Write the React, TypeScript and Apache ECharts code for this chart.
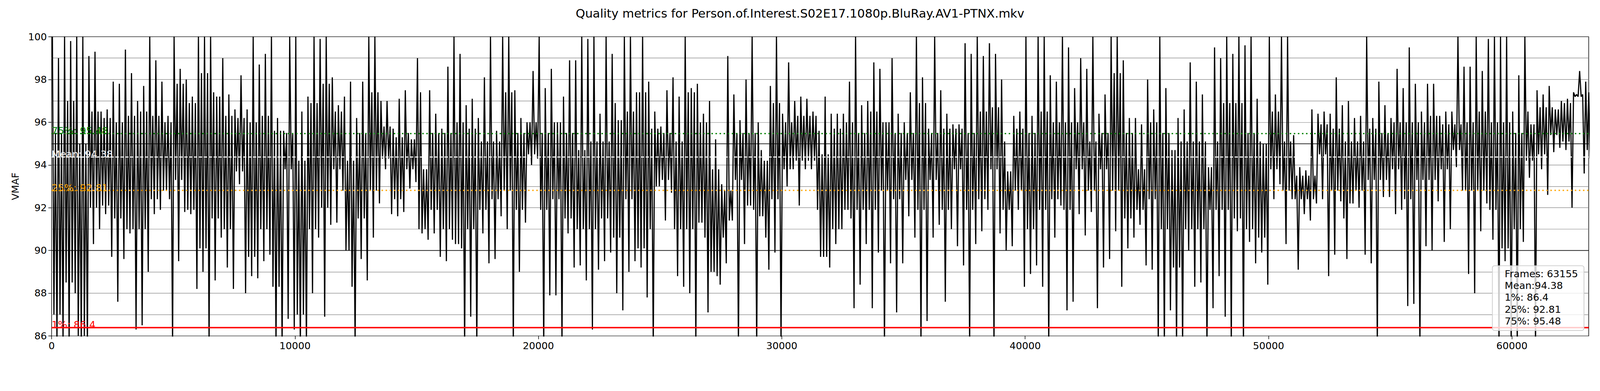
import React, { useEffect, useRef, useState } from "react";
import * as echarts from "echarts";

const FONT = '"DejaVu Sans", "Liberation Sans", sans-serif';
const PAGE_W = 4400;
const PAGE_H = 1000;
const TITLE = "Quality metrics for Person.of.Interest.S02E17.1080p.BluRay.AV1-PTNX.mkv";
const Y_NAME = "VMAF";
const FRAMES = 63155;
const MEAN = 94.38;
const P1 = 86.4;
const P25 = 92.81;
const P75 = 95.48;
const Y_MIN = 86;
const Y_MAX = 100;
const Y_LABEL_STEP = 2;
const Y_GRID_STEP = 1;
const Y_MAJOR_LINES = [90, 95];
const X_STEP = 10000;
const BUCKET = 250; // frames per read-off bucket for the extremes
const BODY_BUCKET = 500; // frames per read-off bucket for the dense band

// max value seen in each 250-frame bucket
const bucketHigh = [
  100, 99, 100, 99.8, 100, 100, 99.1, 99.3, 96.5, 96.6, 97.9, 97.8, 99.4, 98.3, 97, 97.7,
  100, 98.9, 97.9, 96.3, 100, 98.5, 98, 97.2, 100, 100, 100, 97.2, 99, 97.3, 96.6, 98.2,
  96.6, 100, 98.7, 99.2, 100, 96.2, 95.6, 100, 100, 96.5, 97.2, 100, 99.9, 100, 98.1, 96.8,
  97.2, 97.9, 96.2, 97.9, 100, 100, 97, 97, 95.7, 97.1, 97.5, 95.2, 99, 93.8, 97.5, 96.4,
  95.7, 98.6, 100, 99.2, 96.8, 97.1, 96.2, 98.1, 100, 95.6, 100, 100, 97.5, 96.2, 96, 98.4,
  100, 97.6, 98.5, 96, 97.2, 98.9, 98.9, 100, 99.9, 100, 96.4, 100, 99.2, 96.1, 100, 100,
  97.4, 100, 97.9, 96.5, 95.8, 97.5, 98.1, 97.2, 100, 97.6, 97.8, 96.4, 97, 95.2, 93.1, 99.1,
  97.3, 96.1, 98, 100, 96, 94.2, 97.7, 100, 96.4, 98.8, 97, 97.2, 97.1, 96.5, 95.6, 97.2,
  96.4, 96.4, 96.4, 97.9, 100, 96.8, 97, 98.8, 98.5, 96, 99, 96.4, 96, 97.4, 100, 98.1,
  95.7, 100, 97.5, 96.4, 95.9, 95.9, 99.7, 99.2, 100, 99.1, 99.7, 99.2, 98, 93.7, 96.3, 96.5,
  100, 96.3, 100, 100, 98.2, 97.9, 100, 99.5, 97.6, 99, 98.5, 100, 96.4, 97.3, 100, 100,
  98.9, 96.2, 96.2, 95.9, 98, 96.6, 100, 97.6, 94.7, 96.2, 96.6, 98.8, 97.9, 97.3, 93.9, 99.5,
  99, 100, 99.2, 100, 99.6, 100, 97.1, 95, 100, 97.3, 100, 100, 95.4, 93.9, 93.75, 96.6,
  96.4, 96.5, 96.4, 98.1, 96.8, 97, 96.2, 96.3, 100, 96.2, 97.9, 96.8, 96.2, 98.5, 97.6, 99.5,
  97.8, 96.5, 97.8, 97.8, 96.3, 96.5, 96.5, 100, 98.6, 98.6, 100, 98.4, 99.9, 100, 100, 100,
  96.5, 98.2, 100, 95.9, 97.5, 97.3, 97.7, 96.6, 97, 97.1, 97.4, 98.4, 97.9,
];

// min value seen in each 250-frame bucket (85.5 = runs off the bottom of the axis)
const bucketLow = [
  85.5, 85.5, 85.5, 88, 85.5, 85.5, 90.3, 91, 91.7, 89.7, 87.6, 89.6, 90.8, 86.3, 86.5, 89,
  91.7, 91.9, 92.8, 85.5, 89.5, 91.8, 91.7, 88.2, 89, 85.5, 88.6, 90.6, 89.2, 88.2, 93.1, 88,
  88.8, 88.7, 89.5, 89.8, 85.5, 85.5, 86.8, 86.3, 85.5, 85.5, 88, 90.6, 86.9, 91.2, 91.3, 92.8,
  90, 85.5, 89.6, 88.6, 90.6, 92.2, 93.8, 91.7, 91.6, 91.8, 92.9, 93.2, 90.8, 90.5, 90.8, 89.7,
  89.5, 90.5, 90.3, 85.5, 86.9, 85.5, 90.8, 89.4, 89.6, 91.6, 91, 85.5, 89, 91.3, 94, 94.3,
  85.5, 87.9, 87.9, 85.5, 90.8, 89.2, 89.3, 88.6, 86.3, 89.1, 89.5, 89.9, 88, 87.2, 89, 89.5,
  89.2, 87.8, 85.5, 93, 91.4, 92.7, 88.8, 88.3, 88, 85.5, 91.3, 87.1, 89, 88.4, 89.4, 91.4,
  85.5, 90.3, 92.1, 85.5, 91.6, 89.1, 89.9, 85.5, 93, 93.8, 92.1, 93.8, 93.8, 91.9, 89.7, 89.2,
  90.3, 91, 91.9, 87.3, 88.4, 90.3, 87.3, 89.9, 85.5, 89.4, 87.1, 89.4, 91.6, 90.6, 85.5, 86.7,
  90.6, 91.2, 87.6, 91, 90.2, 89.3, 85.5, 90.3, 90.9, 91.9, 85.5, 90.8, 90, 90.2, 91.9, 88.3,
  88.9, 89.3, 88.3, 85.5, 90.6, 92.1, 87.2, 87.6, 91.7, 90.7, 91.8, 87.3, 89.2, 89.6, 90.9, 88.3,
  90.1, 90.6, 91.2, 89.3, 89.1, 85.5, 85.5, 87.2, 85.5, 85.5, 90, 88.3, 88.5, 85.5, 87.3, 88.8,
  86.9, 85.5, 90.9, 85.5, 90.4, 89.4, 89.9, 88.4, 92.4, 93.1, 90.3, 92.4, 89.1, 91.7, 91.4, 92.2,
  92.4, 88.8, 89.8, 92.3, 89.6, 92.2, 92, 89.8, 89.4, 85.5, 92.5, 92.5, 91.7, 91.9, 87.4, 87.5,
  85.5, 90.2, 90, 92.3, 90.4, 91, 93.9, 92.8, 88.9, 88, 90.9, 92.2, 90.5, 85.5, 89.5, 85.5,
  85.5, 90.4, 93.4, 85.5, 93.8, 92.6, 94.6, 94.8, 94.7, 92, 97.2, 93.6, 94.3,
];

// top of the dense black band in each 500-frame bucket
const bodyHigh = [
  95.5, 97, 95, 96.5, 96.2, 96, 96.3, 96.5, 96.3, 96, 97.8, 96.9, 98.3, 97.4, 96.3, 96.2,
  96, 96.3, 95.6, 95.5, 94.2, 96.9, 97.8, 96.5, 94.2, 95.5, 97.4, 95.8, 95.3, 95.5, 97.4, 95.5,
  95.5, 96, 95.7, 95.1, 95.1, 97.4, 95.5, 96, 95.5, 96, 95.5, 94.7, 95.1, 95.1, 96.9, 96.5,
  97.4, 95.7, 95.5, 95.1, 97.4, 96, 93.8, 92.8, 95.5, 95.5, 94.7, 96.9, 96, 96.3, 96.3, 94.5,
  95.7, 96, 95.5, 96.5, 96, 95.5, 95.5, 96.9, 95.5, 95.7, 95.7, 95.5, 96.5, 96.7, 95.1, 95.7,
  95.5, 96.5, 96, 96, 96, 95.1, 95.5, 98.3, 95.5, 93.8, 96, 95.5, 95.1, 95.1, 95.1, 95.1,
  96.9, 96.9, 95.5, 95.1, 96.5, 95.1, 93.5, 93.5, 95.9, 95.7, 95.1, 95.1, 95.7, 95.5, 96, 96,
  96, 96.3, 95.9, 95.9, 96, 96.5, 96, 96, 95.5, 96.5, 96.7, 96.7, 96.9, 97.3, 97.4,
];

// bottom of the dense black band in each 500-frame bucket
const bodyLow = [
  87, 88.5, 86, 92, 92.1, 91.5, 91, 91, 92.4, 92.4, 93.3, 91.9, 90.1, 91.5, 91, 93.7,
  89.7, 91, 88.3, 93.8, 87, 91, 92, 93.8, 88.3, 91.5, 92.8, 94.3, 92.4, 93.8, 91, 91.9,
  91, 90.1, 91, 91.9, 92.4, 92.8, 91.9, 94.5, 91.9, 92.4, 91.5, 91, 91, 91.5, 90.6, 92.4,
  90.1, 91, 93.3, 91, 91, 90.6, 88.8, 90.6, 93.3, 91.9, 90.6, 92.4, 93.8, 94.2, 94.2, 89.7,
  91, 91.5, 91.9, 91.9, 92.8, 92.4, 93.3, 91.9, 93.3, 91.9, 93.8, 91.9, 92.4, 93.8, 91.9, 92.8,
  91, 91.9, 92.4, 91.9, 93.8, 92.8, 93.8, 92.8, 91.5, 91.9, 92.4, 91, 89.2, 91, 91, 91.9,
  91.9, 91.5, 91, 90.6, 93.8, 92.8, 92.4, 92.4, 94.5, 92.8, 91.5, 92.8, 93.3, 93.3, 93.8, 92.4,
  93.3, 93.3, 93.8, 94.7, 92.8, 92.8, 91.9, 90.1, 91, 94.2, 94.5, 95.4, 95.1, 97.2, 94.7,
];

const refLines = [
  { value: P75, label: `75%: ${P75}`, color: "#008000", width: 3.6, type: [4, 7.2] },
  { value: MEAN, label: `Mean: ${MEAN}`, color: "#ffffff", width: 3, type: [9, 4.5] },
  { value: P25, label: `25%: ${P25}`, color: "#ffa500", width: 3.6, type: [4, 7.2] },
  { value: P1, label: `1%: ${P1}`, color: "#ff0000", width: 4, type: "solid" },
];

const legendLines = [
  `Frames: ${FRAMES}`,
  `Mean:${MEAN}`,
  `1%: ${P1}`,
  `25%: ${P25}`,
  `75%: ${P75}`,
];

export default function App() {
  const ref = useRef<HTMLDivElement>(null);
  const [scale] = useState(() => {
    if (typeof window === "undefined") return 1;
    const w = document.documentElement.clientWidth || window.innerWidth || PAGE_W;
    return w / PAGE_W;
  });

  useEffect(() => {
    document.body.style.margin = "0";
    document.body.style.overflow = "hidden";
    const el = ref.current;
    if (!el) return;
    const chart = echarts.init(el, null, { renderer: "svg", width: PAGE_W, height: PAGE_H });

    const points: number[][] = [];
    bucketHigh.forEach((h, i) => {
      const lo = bucketLow[i];
      const b = Math.floor((i * BUCKET) / BODY_BUCKET);
      const bh = Math.min(bodyHigh[b], h);
      const bl = Math.max(bodyLow[b], lo);
      const x = i * BUCKET;
      points.push([x + BUCKET * 0.125, h]);
      points.push([x + BUCKET * 0.375, bl]);
      points.push([x + BUCKET * 0.625, bh]);
      points.push([x + BUCKET * 0.875, lo]);
    });

    const markData: any[] = [
      ...Y_MAJOR_LINES.map((v) => ({
        yAxis: v,
        lineStyle: { color: "#000000", width: 1.5, type: "solid" },
      })),
      ...refLines.map((r) => ({
        yAxis: r.value,
        lineStyle: { color: r.color, width: r.width, type: r.type, cap: "butt" },
      })),
    ];

    const option: any = {
      animation: false,
      backgroundColor: "#ffffff",
      textStyle: { fontFamily: FONT },
      title: {
        text: TITLE,
        left: "center",
        top: 15,
        textStyle: { fontSize: 33, fontWeight: "normal", color: "#000", fontFamily: FONT },
      },
      grid: {
        left: 142,
        top: 101,
        width: 4227,
        height: 822,
        show: true,
        borderColor: "#000",
        borderWidth: 1.6,
        backgroundColor: "transparent",
      },
      xAxis: {
        type: "value",
        min: 0,
        max: FRAMES,
        interval: X_STEP,
        axisLine: { show: false },
        axisTick: { show: true, length: 9, lineStyle: { color: "#000", width: 1.6 } },
        axisLabel: {
          fontSize: 27,
          color: "#000",
          margin: 14,
          fontFamily: FONT,
          showMaxLabel: false,
          formatter: (v: number) => String(v),
        },
        splitLine: { show: false },
      },
      yAxis: [
        {
          type: "value",
          min: Y_MIN,
          max: Y_MAX,
          interval: Y_LABEL_STEP,
          name: Y_NAME,
          nameLocation: "middle",
          nameGap: 86,
          nameTextStyle: { fontSize: 27, color: "#000", fontFamily: FONT },
          axisLine: { show: false },
          axisTick: { show: true, length: 9, lineStyle: { color: "#000", width: 1.6 } },
          axisLabel: { fontSize: 27, color: "#000", margin: 13, fontFamily: FONT, formatter: (v: number) => String(v) },
          splitLine: { show: false },
        },
        {
          type: "value",
          min: Y_MIN,
          max: Y_MAX,
          interval: Y_GRID_STEP,
          position: "left",
          axisLine: { show: false },
          axisTick: { show: false },
          axisLabel: { show: false },
          splitLine: { show: true, lineStyle: { color: "#808080", width: 1.3 } },
        },
      ],
      series: [
        {
          type: "line",
          data: points,
          yAxisIndex: 0,
          showSymbol: false,
          symbol: "none",
          silent: true,
          clip: true,
          lineStyle: { color: "#000000", width: 3.2 },
          z: 3,
          markLine: {
            silent: true,
            symbol: ["none", "none"],
            label: { show: false },
            data: markData,
            z: 4,
          },
        },
      ],
    };

    chart.setOption(option);

    const x0 = chart.convertToPixel({ xAxisIndex: 0 }, 0) as number;
    const xEnd = chart.convertToPixel({ xAxisIndex: 0 }, FRAMES) as number;
    const yBottom = chart.convertToPixel({ yAxisIndex: 0 }, Y_MIN) as number;

    const boxW = 252;
    const boxH = 178;
    const boxX = xEnd - 13 - boxW;
    const boxY = yBottom - 15 - boxH;

    const graphics: any[] = refLines.map((r) => ({
      type: "text",
      z: 50,
      silent: true,
      x: x0,
      y: (chart.convertToPixel({ yAxisIndex: 0 }, r.value) as number) + 6,
      style: {
        text: r.label,
        fill: r.color,
        font: `27px ${FONT}`,
        align: "left",
        verticalAlign: "bottom",
      },
    }));

    graphics.push({
      type: "rect",
      z: 60,
      silent: true,
      shape: { x: boxX, y: boxY, width: boxW, height: boxH, r: 6 },
      style: { fill: "rgba(255,255,255,0.8)", stroke: "#cccccc", lineWidth: 2 },
    });
    graphics.push({
      type: "text",
      z: 61,
      silent: true,
      x: boxX + 34,
      y: boxY + 6,
      style: {
        text: legendLines.join("\n"),
        fill: "#000",
        font: `27px ${FONT}`,
        lineHeight: 32.5,
        align: "left",
        verticalAlign: "top",
      },
    });

    chart.setOption({ graphic: graphics });

    return () => {
      chart.dispose();
    };
  }, []);

  return (
    <div
      style={{
        position: "absolute",
        left: 0,
        top: 0,
        width: PAGE_W * scale,
        height: PAGE_H * scale,
        overflow: "hidden",
      }}
    >
      <div
        ref={ref}
        style={{
          position: "absolute",
          left: 0,
          top: 0,
          width: PAGE_W,
          height: PAGE_H,
          transform: `scale(${scale})`,
          transformOrigin: "0 0",
        }}
      />
    </div>
  );
}
